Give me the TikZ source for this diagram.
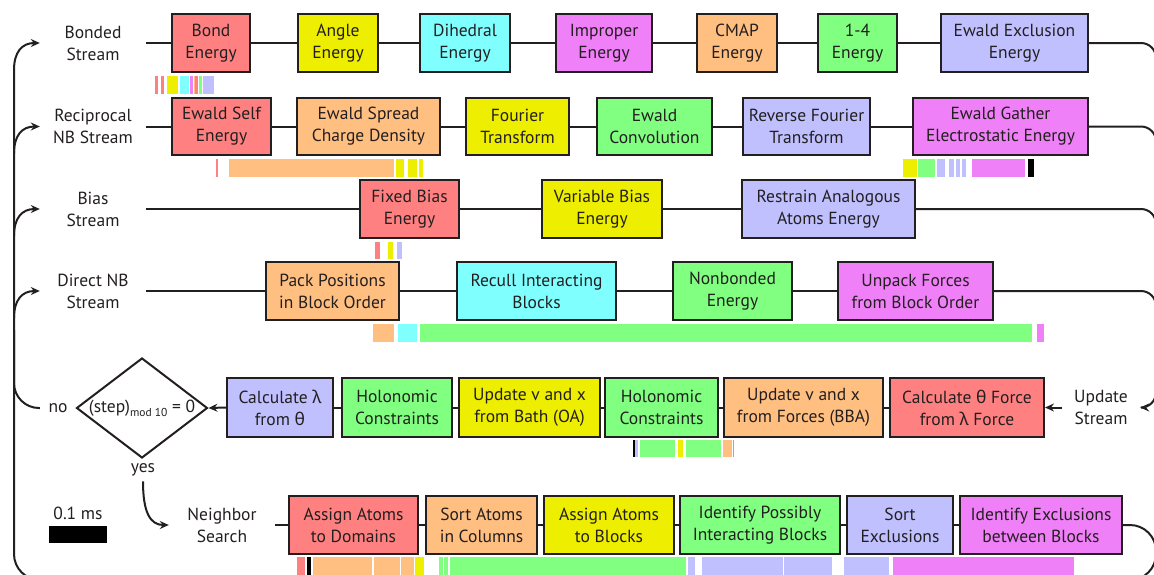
\documentclass[tikz,border=0pt]{standalone}
\usepackage{fontspec}
\setmainfont{PT Sans}
\newfontfamily\grk{Noto Sans}
\usetikzlibrary{shapes.geometric,arrows.meta}
\definecolor{cred}{HTML}{FF8080}
\definecolor{cyel}{HTML}{EEEE00}
\definecolor{ccya}{HTML}{80FFFF}
\definecolor{cmag}{HTML}{F080F8}
\definecolor{cora}{HTML}{FFBF80}
\definecolor{cgrn}{HTML}{80FF80}
\definecolor{clav}{HTML}{C0C0FF}
\definecolor{ink}{HTML}{231F20}
\newcommand\fs{\fontsize{17.5}{22}\selectfont}
\newcommand\gl{{\grk λ}}
\newcommand\gt{{\grk θ}}
\tikzset{
 box/.style={draw=ink, line width=2pt, inner sep=0pt, align=center, font=\fs, text=ink},
 lbl/.style={inner sep=0pt, align=center, minimum width=106pt, font=\fs, text=ink},
 conn/.style={draw=ink, line width=2pt},
 arr/.style={conn, -{Stealth[length=9pt,width=8pt,inset=3pt]}},
}
% name colour x1 x2 y1 y2 text
\newcommand\bx[7]{\node[box,fill=#2,minimum width={#4pt-#3pt},minimum height={#6pt-#5pt}] (#1) at ({(#3+#4)/2},{(#5+#6)/2}) {#7};}
% colour x1 x2 y1 y2
\newcommand\br[5]{\fill[#1] (#2,#4) rectangle (#3,#5);}
\begin{document}
\begin{tikzpicture}[x=1pt,y=-1pt]
\useasboundingbox (0,0) rectangle (1154,574);
\clip (0,0) rectangle (1154,574);
% labels
\node[lbl] (l1) at (93,43) {Bonded\\Stream};
\node[lbl] (l2) at (93,126.5) {Reciprocal\\NB Stream};
\node[lbl] (l3) at (93,209) {Bias\\Stream};
\node[lbl] (l4) at (93,291) {Direct NB\\Stream};
\node[lbl] (ln) at (222,525) {Neighbor\\Search};
\node[lbl,minimum width=78pt] (lu) at (1101,407.5) {Update\\Stream};
% row 1
\bx{bond}{cred}{172}{250}{14}{72}{Bond\\Energy}
\bx{angle}{cyel}{298}{378}{14}{72}{Angle\\Energy}
\bx{dihed}{ccya}{420}{510}{14}{72}{Dihedral\\Energy}
\bx{impr}{cmag}{556}{652}{14}{72}{Improper\\Energy}
\bx{cmap}{cora}{697}{777}{14}{72}{CMAP\\Energy}
\bx{onefour}{cgrn}{818}{897}{14}{72}{1-4\\Energy}
\bx{ewex}{clav}{941}{1088}{14}{72}{Ewald Exclusion\\Energy}
% row 2
\bx{eself}{cred}{172}{271}{98}{155}{Ewald Self\\Energy}
\bx{espread}{cora}{297}{440}{98}{155}{Ewald Spread\\Charge Density}
\bx{fourier}{cyel}{466}{569}{98}{155}{Fourier\\Transform}
\bx{econv}{cgrn}{597}{712}{98}{155}{Ewald\\Convolution}
\bx{rfour}{clav}{743}{870}{98}{155}{Reverse Fourier\\Transform}
\bx{egath}{cmag}{913}{1088}{98}{155}{Ewald Gather\\Electrostatic Energy}
% row 3
\bx{fixed}{cred}{360}{459}{180}{238}{Fixed Bias\\Energy}
\bx{vari}{cyel}{542}{662}{180}{238}{Variable Bias\\Energy}
\bx{restr}{clav}{742}{915}{180}{238}{Restrain Analogous\\Atoms Energy}
% row 4
\bx{pack}{cora}{266}{399}{262}{320}{Pack Positions\\in Block Order}
\bx{recull}{ccya}{457}{616}{262}{320}{Recull Interacting\\Blocks}
\bx{nonb}{cgrn}{673}{792}{262}{320}{Nonbonded\\Energy}
\bx{unpack}{cmag}{838}{993}{262}{320}{Unpack Forces\\from Block Order}
% row 5
\bx{clam}{clav}{227}{333}{378}{437}{Calculate \gl\\from \gt}
\bx{holoa}{cgrn}{342}{452}{378}{437}{Holonomic\\Constraints}
\bx{bath}{cyel}{459}{600}{378}{437}{Update v and x\\from Bath (OA)}
\bx{holob}{cgrn}{605}{718}{378}{437}{Holonomic\\Constraints}
\bx{forces}{cora}{724}{883}{378}{437}{Update v and x\\from Forces (BBA)}
\bx{ctheta}{cred}{890}{1044}{378}{437}{Calculate \gt{} Force\\from \gl{} Force}
% row 6
\bx{adom}{cred}{289}{418}{496}{554}{Assign Atoms\\to Domains}
\bx{scol}{cora}{426}{537}{496}{554}{Sort Atoms\\in Columns}
\bx{ablk}{cyel}{544}{674}{496}{554}{Assign Atoms\\to Blocks}
\bx{ipos}{cgrn}{680}{840}{496}{554}{Identify Possibly\\Interacting Blocks}
\bx{sexc}{clav}{847}{953}{496}{554}{Sort\\Exclusions}
\bx{iexc}{cmag}{960}{1122}{496}{554}{Identify Exclusions\\between Blocks}
% decision
\node[draw=ink,line width=2pt,diamond,aspect=1.31,minimum width=131pt,minimum height=100pt,inner sep=0pt,
 label={[font=\fs,text=ink,inner sep=0pt]center:(step)\raisebox{-4pt}{\fontsize{11.5}{11.5}\selectfont mod 10} = 0}] (dia) at (142,408) {};
\node[font=\fs,text=ink,inner sep=0pt,minimum width=36pt] (no) at (58,408) {no};
\node[font=\fs,text=ink,inner sep=0pt] (yes) at (143,470) {yes};
% scale
\node[font=\fs,text=ink,inner sep=0pt] (sl) at (78,513) {0.1 ms};
\node[fill=black,minimum width=58pt,minimum height=17pt,inner sep=0pt] (sb) at (78,534.5) {};
% connectors
\draw[conn] (l1.east)--(bond.west) (bond.east)--(angle.west) (angle.east)--(dihed.west) (dihed.east)--(impr.west) (impr.east)--(cmap.west) (cmap.east)--(onefour.west) (onefour.east)--(ewex.west);
\draw[conn] (l2.east)--(eself.west) (eself.east)--(espread.west) (espread.east)--(fourier.west) (fourier.east)--(econv.west) (econv.east)--(rfour.west) (rfour.east)--(egath.west);
\draw[conn] (l3.east)--(fixed.west) (fixed.east)--(vari.west) (vari.east)--(restr.west);
\draw[conn] (l4.east)--(pack.west) (pack.east)--(recull.west) (recull.east)--(nonb.west) (nonb.east)--(unpack.west);
\draw[conn] (clam.east)--(holoa.west) (holoa.east)--(bath.west) (bath.east)--(holob.west) (holob.east)--(forces.west) (forces.east)--(ctheta.west);
\draw[conn] (ln.east)--(adom.west) (adom.east)--(scol.west) (scol.east)--(ablk.west) (ablk.east)--(ipos.west) (ipos.east)--(sexc.west) (sexc.east)--(iexc.west);
\coordinate (rb) at (1156,43);
\draw[conn,rounded corners=15pt] (ewex.east) -| (1156,100);
\draw[conn,rounded corners=15pt] (egath.east) -| (1156,180);
\draw[conn,rounded corners=15pt] (restr.east) -| (1156,260);
\draw[conn,rounded corners=15pt] (unpack.east) -| (1156,340);
\draw[arr,rounded corners=15pt] (rb) |- (lu.east);
\draw[arr] (lu.west) -- (ctheta.east);
\draw[arr] (clam.west) -- (dia.east);
\coordinate (lb) at (14,70);
\draw[conn,rounded corners=26pt] (iexc.east) -- (1156,525) -- (1156,580) -- (14,580) -- (lb);
\draw[conn,rounded corners=25pt] (no.west) -| (14,330);
\draw[arr] (lb) .. controls (14,52) and (22,43) .. (l1.west);
\draw[arr] (14,153.5) .. controls (14,135.5) and (22,126.5) .. (l2.west);
\draw[arr] (14,236) .. controls (14,218) and (22,209) .. (l3.west);
\draw[arr] (14,318) .. controls (14,300) and (22,291) .. (l4.west);
\draw[arr] ([yshift=-5pt]yes.south) .. controls (143,512) and (150,525) .. (ln.west);
% timing bars row 1
\br{cred}{155}{157.5}{76}{94}\br{cred}{161}{163.5}{76}{94}
\br{cyel}{167}{178}{76}{94}\br{ccya}{180}{189}{76}{94}\br{cmag}{190}{193}{76}{94}
\br{cora}{193.5}{194.5}{76}{94}\br{cred}{194.5}{197.5}{76}{94}\br{cgrn}{198.5}{202}{76}{94}\br{clav}{203}{214}{76}{94}
% row 2
\br{cred}{216}{218}{159}{177}\br{cora}{229}{394}{159}{177}\br{cyel}{396}{404}{159}{177}
\br{cyel}{408}{416.5}{159}{177}\br{cyel}{419}{423}{159}{177}
\br{cyel}{903}{917}{159}{177}\br{cgrn}{918}{935}{159}{177}\br{clav}{937}{945}{159}{177}
\br{clav}{949}{954}{159}{177}\br{clav}{956}{960}{159}{177}\br{clav}{962}{966}{159}{177}
\br{cmag}{972}{1025}{159}{177}\br{black}{1028}{1034}{159}{177}
% row 3
\br{cred}{375}{380}{242}{259}\br{cyel}{388}{393}{242}{259}\br{clav}{397}{402}{242}{259}
% row 4
\br{cora}{373}{394}{324}{342}\br{ccya}{398}{417}{324}{342}\br{cgrn}{420}{1032}{324}{342}\br{cmag}{1037}{1044}{324}{342}
% row 5
\br{black}{632.5}{634.5}{440}{457}\br{clav}{634.5}{637.5}{440}{457}\br{cgrn}{640}{675}{440}{457}
\br{cyel}{678}{683}{440}{457}\br{cgrn}{686}{721}{440}{457}\br{cora}{723}{732}{440}{457}\br{cred}{732.5}{734}{440}{457}
% row 6
\br{cred}{297}{305}{557}{580}\br{black}{307}{311}{557}{580}\br{cora}{313}{372}{557}{580}
\br{cora}{374}{400}{557}{580}\br{cora}{401}{414}{557}{580}\br{cyel}{415}{424}{557}{580}
\br{cgrn}{439}{443}{557}{580}\br{cgrn}{444}{448}{557}{580}\br{cgrn}{450}{686}{557}{580}
\br{clav}{688}{695}{557}{580}\br{clav}{702}{783}{557}{580}\br{clav}{784}{832}{557}{580}
\br{clav}{844}{889}{557}{580}\br{cmag}{893}{1074}{557}{580}
\end{tikzpicture}
\end{document}
